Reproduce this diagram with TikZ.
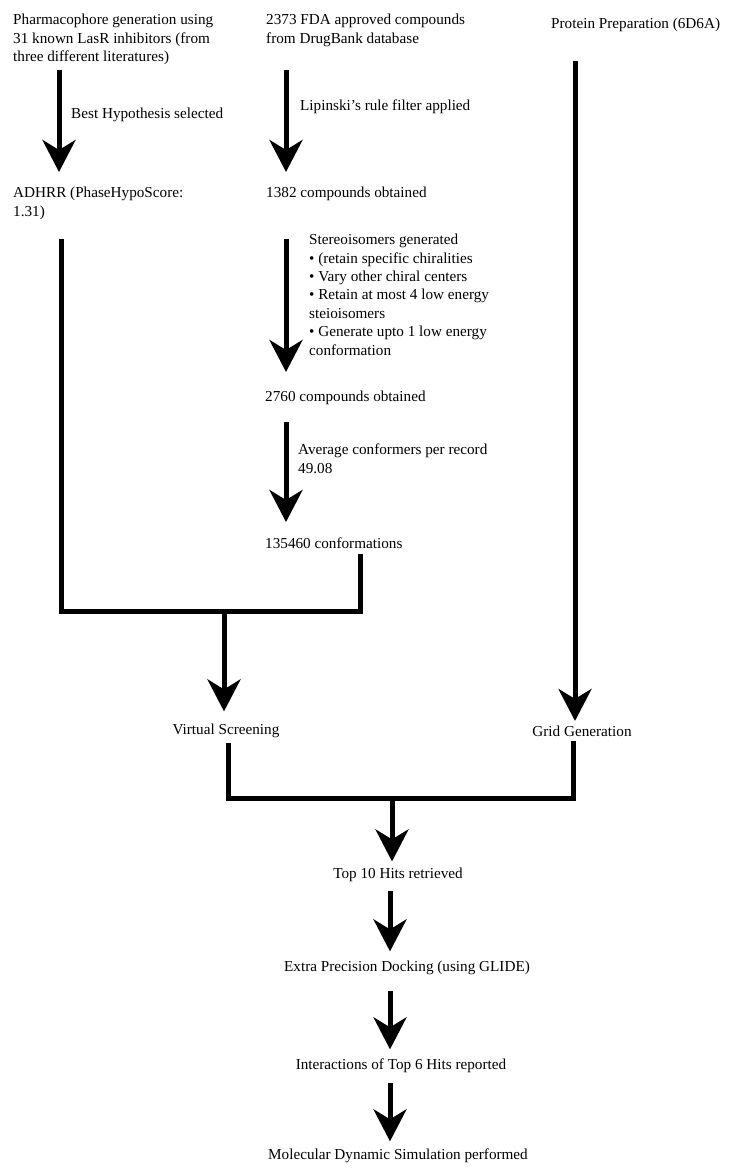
\documentclass[tikz,border=0pt]{standalone}
\usepackage{fontspec}
\setmainfont{Liberation Serif}
\usepackage{tikz}
\usetikzlibrary{arrows.meta, positioning, calc}

\begin{document}
\begin{tikzpicture}[x=1pt, y=-1pt,
        txt/.style={font=\fontsize{15.2}{18.4}\selectfont, inner sep=0pt, align=left, anchor=north west},
        mid/.style={font=\fontsize{15.2}{18.4}\selectfont, inner sep=0pt},
        flow/.style={line width=5pt, -{Stealth[length=32pt, width=33pt, inset=10pt]}},
        bar/.style={line width=5pt}
    ]
        \useasboundingbox (0,0) rectangle (731,1175);

        % Columns and junctions
        \coordinate (colA) at (59,0);
        \coordinate (colL) at (61,0);
        \coordinate (colB) at (286,0);
        \coordinate (colC) at (360,0);
        \coordinate (colP) at (575,0);
        \coordinate (colV) at (228,0);
        \coordinate (colG) at (573,0);
        \coordinate (colM) at (390,0);
        \coordinate (m1) at (224,611);
        \coordinate (m2) at (392,798);

        % Top row
        \node[txt] (pharm) at (13,14) {Pharmacophore generation using\\31 known LasR inhibitors (from\\three different literatures)};
        \node[txt] (fda) at (266,14) {2373 FDA approved compounds\\from DrugBank database};
        \node[txt] (protein) at (551,18) {Protein Preparation (6D6A)};

        % Pharmacophore branch
        \node[txt] (best) at (71,108) {Best Hypothesis selected};
        \node[txt] (adhrr) at (13,187) {ADHRR (PhaseHypoScore:\\1.31)};

        % Compound branch
        \node[txt] (lipinski) at (300,100) {Lipinski's rule filter applied};
        \node[txt] (c1382) at (266,187) {1382 compounds obtained};
        \node[txt] (stereo) at (309,234) {Stereoisomers generated\\%
            • (retain specific chiralities\\%
            • Vary other chiral centers\\%
            • Retain at most 4 low energy\\%
            steioisomers\\%
            • Generate upto 1 low energy\\%
            conformation};
        \node[txt] (c2760) at (265,391) {2760 compounds obtained};
        \node[txt] (avg) at (298,444) {Average conformers per record\\49.08};
        \node[txt] (c135460) at (265,538) {135460 conformations};

        % Lower steps
        \node[mid] (vs) at (226,731) {Virtual Screening};
        \node[mid] (grid) at (582,731) {Grid Generation};
        \node[mid] (top10) at (398,875) {Top 10 Hits retrieved};
        \node[mid] (xp) at (407,968) {Extra Precision Docking (using GLIDE)};
        \node[mid] (inter) at (401,1066) {Interactions of Top 6 Hits reported};
        \node[mid] (md) at (398,1156) {Molecular Dynamic Simulation performed};

        % Arrows
        \draw[flow, shorten <=5pt, shorten >=15pt] (colA |- pharm.south) -- (colA |- adhrr.north);
        \draw[flow, shorten <=23pt, shorten >=15pt] (colB |- fda.south) -- (colB |- c1382.north);
        \draw[flow, shorten <=38pt, shorten >=19pt] (colB |- c1382.south) -- (colB |- c2760.north);
        \draw[flow, shorten <=17pt, shorten >=16pt] (colB |- c2760.south) -- (colB |- c135460.north);

        % Merge into screening
        \draw[bar, shorten <=19pt, shorten >=5pt] (colL |- adhrr.south) -- (colL |- m1) -- (colC |- m1) -- (colC |- c135460.south);
        \draw[flow, shorten >=12.5pt] (m1) -- (m1 |- vs.north);
        \draw[flow, shorten <=29pt, shorten >=4.5pt] (colP |- protein.south) -- (colP |- grid.north);

        % Merge into hits
        \draw[bar, shorten <=4.5pt, shorten >=4.5pt] (colV |- vs.south) -- (colV |- m2) -- (colG |- m2) -- (colG |- grid.south);
        \draw[flow, shorten >=6.5pt] (m2) -- (m2 |- top10.north);
        \draw[flow, shorten <=8.5pt, shorten >=9.5pt] (colM |- top10.south) -- (colM |- xp.north);
        \draw[flow, shorten <=15.5pt, shorten >=9.5pt] (colM |- xp.south) -- (colM |- inter.north);
        \draw[flow, shorten <=9.5pt, shorten >=7.5pt] (colM |- inter.south) -- (colM |- md.north);
    \end{tikzpicture}
\end{document}
